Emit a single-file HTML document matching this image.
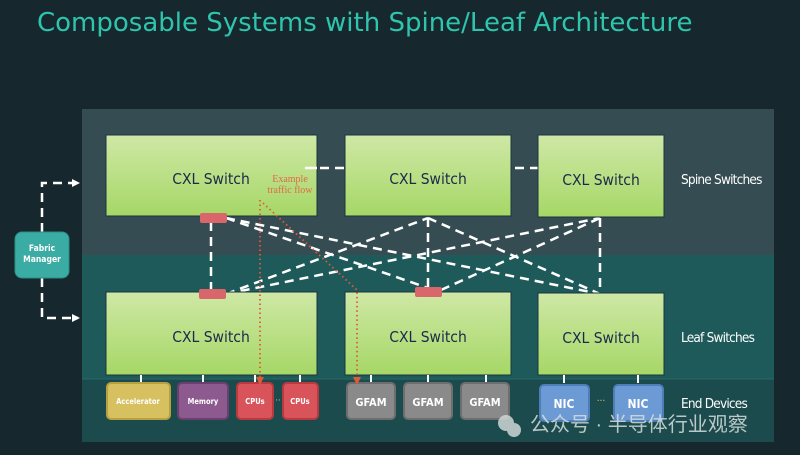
<!DOCTYPE html>
<html><head><meta charset="utf-8"><style>
html,body{margin:0;padding:0;width:800px;height:455px;overflow:hidden;background:#16282d;font-family:"DejaVu Sans Condensed","Liberation Sans",sans-serif;}
</style></head><body>
<svg width="800" height="455" xmlns="http://www.w3.org/2000/svg" font-family="'DejaVu Sans Condensed','Liberation Sans',sans-serif">
<defs>
<linearGradient id="g" x1="0" y1="0" x2="0" y2="1"><stop offset="0" stop-color="#cfe8a6"/><stop offset="1" stop-color="#a6d766"/></linearGradient>
<marker id="wa" markerWidth="8" markerHeight="8" refX="6" refY="4" orient="auto" markerUnits="userSpaceOnUse"><path d="M0,0 L8,4 L0,8 z" fill="#fff"/></marker>
<marker id="ra" markerWidth="8" markerHeight="8" refX="6" refY="4" orient="auto" markerUnits="userSpaceOnUse"><path d="M0,0 L8,4 L0,8 z" fill="#e05a3a"/></marker>
</defs>
<rect width="800" height="455" fill="#16282d"/>
<text x="37" y="31" font-size="26" fill="#2ec4ad" font-family="'DejaVu Sans','Liberation Sans',sans-serif">Composable Systems with Spine/Leaf Architecture</text>
<rect x="82" y="109" width="692" height="146" fill="#354d52"/>
<rect x="82" y="255" width="692" height="124" fill="#1e5a5a"/>
<rect x="82" y="379" width="692" height="63" fill="#1b4b4d"/>
<line x1="82" y1="379" x2="774" y2="379" stroke="#2a6a68" stroke-width="1"/>

<g stroke="#fff" stroke-width="2.5" stroke-dasharray="9,6" fill="none">
<line x1="305" y1="168" x2="560" y2="168"/>
<line x1="211" y1="222" x2="211" y2="290"/>
<line x1="428" y1="218" x2="428" y2="288"/>
<line x1="600" y1="218" x2="600" y2="292"/>
<line x1="226" y1="218" x2="428" y2="288"/>
<line x1="226" y1="218" x2="600" y2="294"/>
<line x1="226" y1="294" x2="428" y2="218"/>
<line x1="226" y1="294" x2="600" y2="218"/>
<line x1="428" y1="218" x2="600" y2="294"/>
<line x1="441" y1="290" x2="600" y2="218"/>
<polyline points="42,232 42,183 78,183" marker-end="url(#wa)"/>
<polyline points="42,278 42,318 78,318" marker-end="url(#wa)"/>
</g>

<g stroke="#1b3540" stroke-width="1">
<rect x="106" y="135" width="211" height="81" fill="url(#g)"/>
<rect x="345" y="135" width="166" height="81" fill="url(#g)"/>
<rect x="538" y="135" width="126" height="82" fill="url(#g)"/>
<rect x="106" y="292" width="211" height="83" fill="url(#g)"/>
<rect x="345" y="292" width="166" height="83" fill="url(#g)"/>
<rect x="538" y="293" width="126" height="82" fill="url(#g)"/>
</g>
<line x1="305" y1="168" x2="317" y2="168" stroke="#fff" stroke-width="2.5"/>
<g font-size="15.5" fill="#1a2a4a" text-anchor="middle">
<text x="211" y="184">CXL Switch</text>
<text x="428" y="184">CXL Switch</text>
<text x="601" y="185">CXL Switch</text>
<text x="211" y="342">CXL Switch</text>
<text x="428" y="342">CXL Switch</text>
<text x="601" y="343">CXL Switch</text>
</g>
<text x="290" y="182" font-size="10" fill="#e06a4a" text-anchor="middle" font-family="'Liberation Serif',serif">Example</text>
<text x="290" y="193" font-size="10" fill="#e06a4a" text-anchor="middle" font-family="'Liberation Serif',serif">traffic flow</text>

<g fill="#d9666a">
<rect x="200" y="213" width="27" height="10" rx="2"/>
<rect x="199" y="289" width="27" height="10" rx="2"/>
<rect x="415" y="287" width="27" height="10" rx="2"/>
</g>

<g font-size="13.5" fill="#fff" letter-spacing="-0.8">
<text x="681" y="184">Spine Switches</text>
<text x="681" y="342">Leaf Switches</text>
<text x="681" y="408">End Devices</text>
</g>

<rect x="15" y="232" width="54" height="46" rx="7" fill="#3aaca3" stroke="#2a8e86"/>
<text x="42" y="251" font-size="8.5" font-weight="bold" fill="#fff" text-anchor="middle">Fabric</text>
<text x="42" y="262" font-size="8.5" font-weight="bold" fill="#fff" text-anchor="middle">Manager</text>

<g stroke="#fff" stroke-width="2">
<line x1="141" y1="375" x2="141" y2="383"/><line x1="203" y1="375" x2="203" y2="383"/>
<line x1="255" y1="375" x2="255" y2="383"/><line x1="300" y1="375" x2="300" y2="383"/>
<line x1="371" y1="375" x2="371" y2="383"/><line x1="428" y1="375" x2="428" y2="383"/><line x1="486" y1="375" x2="486" y2="383"/>
<line x1="564" y1="375" x2="564" y2="383"/><line x1="638" y1="375" x2="638" y2="383"/>
</g>
<g stroke-width="2">
<rect x="107" y="383" width="63" height="36" rx="4" fill="#d6c060" stroke="#b8a040"/>
<rect x="178" y="383" width="50" height="36" rx="4" fill="#8d5a8f" stroke="#6d3f70"/>
<rect x="237" y="383" width="36" height="36" rx="4" fill="#d9545a" stroke="#b83a40"/>
<rect x="283" y="383" width="35" height="36" rx="4" fill="#d9545a" stroke="#b83a40"/>
<rect x="347" y="383" width="48" height="36" rx="4" fill="#8a8a8a" stroke="#6e6e6e"/>
<rect x="404" y="383" width="48" height="36" rx="4" fill="#8a8a8a" stroke="#6e6e6e"/>
<rect x="461" y="383" width="48" height="36" rx="4" fill="#8a8a8a" stroke="#6e6e6e"/>
<rect x="540" y="385" width="49" height="36" rx="4" fill="#6c9ad4" stroke="#4e7eb8"/>
<rect x="614" y="385" width="49" height="36" rx="4" fill="#6c9ad4" stroke="#4e7eb8"/>
</g>
<g fill="#fff" text-anchor="middle" font-weight="bold">
<text x="138" y="404" font-size="7.5">Accelerator</text>
<text x="203" y="404" font-size="7.5">Memory</text>
<text x="255" y="404" font-size="7.5">CPUs</text>
<text x="300" y="404" font-size="7.5">CPUs</text>
<text x="371" y="406" font-size="11">GFAM</text>
<text x="428" y="406" font-size="11">GFAM</text>
<text x="485" y="406" font-size="11">GFAM</text>
<text x="564" y="408" font-size="12">NIC</text>
<text x="638" y="408" font-size="12">NIC</text>
</g>
<text x="278" y="403" font-size="9" fill="#d9c060" text-anchor="middle">··</text>
<text x="601" y="404" font-size="10" fill="#d9c060" text-anchor="middle">···</text>

<g stroke="#e05a3a" stroke-width="1.8" stroke-dasharray="1.5,3" fill="none">
<line x1="260" y1="200" x2="260" y2="383" marker-end="url(#ra)"/>
<polyline points="263,203 357,290 357,383" marker-end="url(#ra)"/>
</g>

<g opacity="0.85">
<circle cx="506" cy="423" r="8" fill="#cfd6d6"/><circle cx="514" cy="430" r="7" fill="#cfd6d6"/>
<text x="530" y="431" font-size="20" fill="#d8dede" font-family="'Liberation Sans','Noto Sans CJK SC',sans-serif">公众号 · 半导体行业观察</text>
</g>
</svg>
</body></html>
